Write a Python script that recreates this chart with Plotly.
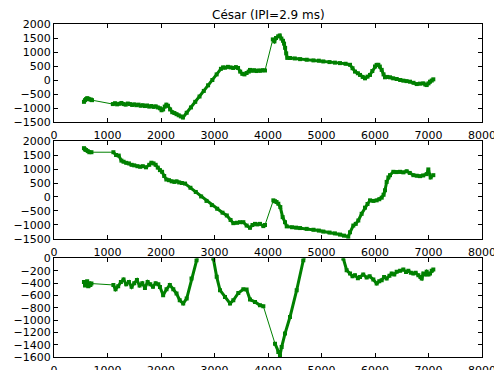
import plotly.graph_objects as go
from plotly.subplots import make_subplots

# --- series: time (ms) vs. position for the three components ---
x_top = [560, 580, 600, 620, 640, 660, 690, 710,
         1100, 1140, 1180, 1220, 1260, 1300, 1340, 1380, 1420, 1460, 1500, 1540,
         1580, 1620, 1660, 1700, 1740, 1780, 1820, 1860, 1900, 1940, 1980, 2010,
         2040, 2070, 2100, 2130, 2170, 2210, 2250, 2290, 2330, 2370, 2410,
         2480, 2560, 2640, 2720, 2800, 2880, 2960, 3040, 3120, 3160, 3200, 3250,
         3300, 3350, 3400, 3440, 3480, 3520, 3560, 3600, 3640, 3664, 3700, 3740,
         3780, 3820, 3860, 3900, 3944,
         4090, 4120, 4150, 4190, 4220, 4250, 4280, 4300, 4320, 4340, 4360, 4411,
         4500, 4600, 4723, 4850, 4950, 5034, 5150, 5250, 5346, 5450, 5533, 5580,
         5626, 5680, 5720, 5770, 5813, 5860, 5907, 5950, 6000, 6030, 6062, 6090,
         6125, 6160, 6187, 6230, 6280, 6340, 6405, 6470, 6530, 6590, 6654, 6720,
         6779, 6840, 6903, 6940, 6966, 7000, 7028, 7060, 7090]
y_top = [-780, -720, -680, -650, -670, -690, -700, -720,
         -860, -830, -870, -850, -820, -860, -880, -840, -860, -890, -870, -900,
         -880, -920, -900, -930, -910, -950, -930, -960, -940, -980, -1010, -1080,
         -1050, -950, -880, -920, -1050, -1150, -1180, -1220, -1260, -1300, -1340,
         -1170, -980, -780, -590, -390, -190, 0, 200, 400, 450, 440, 470,
         450, 430, 460, 430, 300, 220, 200, 250, 300, 360, 330, 350,
         320, 340, 330, 350, 340,
         1450, 1380, 1500, 1560, 1590, 1480, 1400, 1300, 1150, 950, 790, 785,
         770, 745, 724, 700, 690, 663, 640, 620, 603, 580, 543, 420,
         300, 240, 181, 110, 60, 120, 181, 320, 482, 540, 543, 480,
         362, 200, 97, 110, 97, 60, 36, 0, -24, -40, -60, -100,
         -145, -130, -120, -160, -181, -120, -60, -20, 24]

x_mid = [560, 580, 600, 630, 660, 700,
         1110, 1160, 1210, 1260, 1300, 1350, 1400, 1450, 1500, 1560, 1610, 1660,
         1720, 1780, 1820, 1860, 1900, 1940, 1980, 2020, 2060, 2100, 2150, 2200,
         2250, 2290, 2340, 2390, 2450,
         2550, 2650, 2750, 2850, 2950, 3050, 3150, 3230, 3300, 3352, 3420, 3477,
         3539, 3601, 3664, 3710, 3757, 3800, 3850, 3913, 3944,
         4100, 4130, 4160, 4193, 4230, 4274, 4318, 4350, 4450, 4525, 4600, 4723,
         4850, 4950, 5034, 5150, 5250, 5346, 5420, 5500,
         5533, 5595, 5640, 5688, 5750, 5813, 5860, 5907, 5970, 6031, 6080, 6125,
         6160, 6187, 6218, 6250, 6280, 6343, 6400, 6467, 6530, 6592, 6650, 6717,
         6780, 6841, 6900, 6966, 6997, 7040, 7090]
y_mid = [1745, 1700, 1680, 1640, 1600, 1600,
         1600, 1500, 1480, 1300, 1260, 1220, 1200, 1150, 1130, 1100, 1080, 1100,
         1060, 1150, 1225, 1200, 1150, 1050, 960, 900, 750, 625, 600, 560,
         540, 560, 520, 500, 480,
         330, 180, 20, -140, -290, -420, -560, -660, -820, -935, -920, -900,
         -900, -1020, -1100, -1000, -960, -980, -960, -1040, -1000,
         -120, -150, -180, -240, -360, -720, -900, -1050, -1080, -1095, -1110, -1138,
         -1170, -1200, -1235, -1270, -1300, -1343, -1380, -1415,
         -1260, -1020, -960, -840, -600, -380, -250, -120, -140, -120, -80, -24,
         80, 240, 540, 700, 780, 900, 890, 900, 880, 920, 860, 780,
         760, 745, 770, 817, 985, 700, 780]

x_bot = [560, 580, 600, 620, 640, 660, 680, 700,
         1110, 1150, 1200, 1250, 1300, 1350, 1400, 1450, 1500, 1550, 1600, 1650,
         1700, 1750, 1800, 1850, 1900, 1950, 1981, 2040, 2103, 2165, 2230, 2290,
         2350, 2415, 2480, 2570, 2664, 2720, 2800, 2880, 2978, 3041, 3103, 3196,
         3290, 3352, 3445, 3539, 3600, 3664, 3757, 3850, 3913, 4131,
         4193, 4224, 4255, 4318, 4411, 4536, 4660, 4750, 4850, 4950, 5050, 5150,
         5250, 5340, 5408,
         5470, 5533, 5580, 5626, 5680, 5720, 5780, 5844, 5900, 5969, 6031, 6080,
         6125, 6170, 6218, 6270, 6312, 6360, 6405, 6470, 6530, 6580, 6623, 6670,
         6717, 6760, 6810, 6850, 6873, 6903, 6940, 6966, 7000, 7028, 7060, 7090]
y_bot = [-380, -440, -400, -370, -450, -400, -430, -407,
         -430, -500, -450, -380, -340, -420, -380, -460, -400, -350, -440, -400,
         -480, -380, -420, -460, -400, -420, -461, -597, -500, -430, -500, -570,
         -678, -730, -650, -325, -28, 150, 200, 150, 0, -298, -515, -624,
         -730, -678, -560, -500, -505, -667, -705, -760, -776, -1383,
         -1519, -1573, -1438, -1220, -950, -515, -28, 200, 350, 450, 500, 450,
         300, 150, 0,
         -190, -245, -290, -271, -320, -300, -260, -310, -290, -342, -407, -370,
         -352, -300, -325, -280, -245, -260, -217, -200, -179, -220, -200, -230,
         -245, -230, -271, -300, -325, -245, -260, -217, -260, -245, -200, -179]

x_ticks = [0, 1000, 2000, 3000, 4000, 5000, 6000, 7000, 8000]
y_ticks_top = [-1500, -1000, -500, 0, 500, 1000, 1500, 2000]
y_ticks_bot = [-1600, -1400, -1200, -1000, -800, -600, -400, -200, 0]

TITLE = "César (IPI=2.9 ms)"
GREEN = "#008000"
GAP_MS = 140  # samples farther apart than this are joined only by a thin line

series = [(x_top, y_top), (x_mid, y_mid), (x_bot, y_bot)]
y_ranges = [[-1500, 2000], [-1500, 2000], [-1600, 0]]
y_tick_sets = [y_ticks_top, y_ticks_top, y_ticks_bot]
domains = [[0.7057, 1.0], [0.3544, 0.6486], [0.0, 0.2958]]


def dense_runs(xs, ys):
    """Break the series with None wherever consecutive samples are far apart."""
    bx, by = [xs[0]], [ys[0]]
    for k in range(1, len(xs)):
        if xs[k] - xs[k - 1] > GAP_MS:
            bx.append(None)
            by.append(None)
        bx.append(xs[k])
        by.append(ys[k])
    return bx, by


fig = make_subplots(rows=3, cols=1)

font = dict(family="DejaVu Sans", size=11, color="black")
for i, (xs, ys) in enumerate(series, start=1):
    # thin connecting line through every sample
    fig.add_trace(
        go.Scatter(x=xs, y=ys, mode="lines",
                   line=dict(color=GREEN, width=1),
                   showlegend=False, hoverinfo="skip"),
        row=i, col=1,
    )
    # heavy trace with square markers over the densely sampled stretches
    dx, dy = dense_runs(xs, ys)
    fig.add_trace(
        go.Scatter(x=dx, y=dy, mode="lines+markers", connectgaps=False,
                   line=dict(color=GREEN, width=3),
                   marker=dict(symbol="square", size=4, color=GREEN),
                   showlegend=False),
        row=i, col=1,
    )
    axis_common = dict(
        showline=True, linecolor="black", linewidth=1, mirror="allticks",
        ticks="inside", ticklen=4, tickcolor="black", tickwidth=1,
        showgrid=False, zeroline=False, tickfont=font, automargin=False,
        ticklabeloverflow="allow",
    )
    fig.update_xaxes(range=[0, 8000], tickvals=x_ticks, domain=[0, 1],
                     ticklabelstandoff=3, **axis_common, row=i, col=1)
    fig.update_yaxes(range=y_ranges[i - 1], tickvals=y_tick_sets[i - 1],
                     domain=domains[i - 1], **axis_common, row=i, col=1)

fig.add_annotation(
    text=TITLE, xref="paper", yref="paper", x=0.5, y=1.0,
    xanchor="center", yanchor="bottom", yshift=0, showarrow=False,
    font=dict(family="DejaVu Sans", size=12, color="black"),
)

fig.update_layout(
    width=494, height=370,
    margin=dict(l=54, r=12, t=24, b=13),
    paper_bgcolor="white", plot_bgcolor="white",
)

fig.write_html("out.html")
